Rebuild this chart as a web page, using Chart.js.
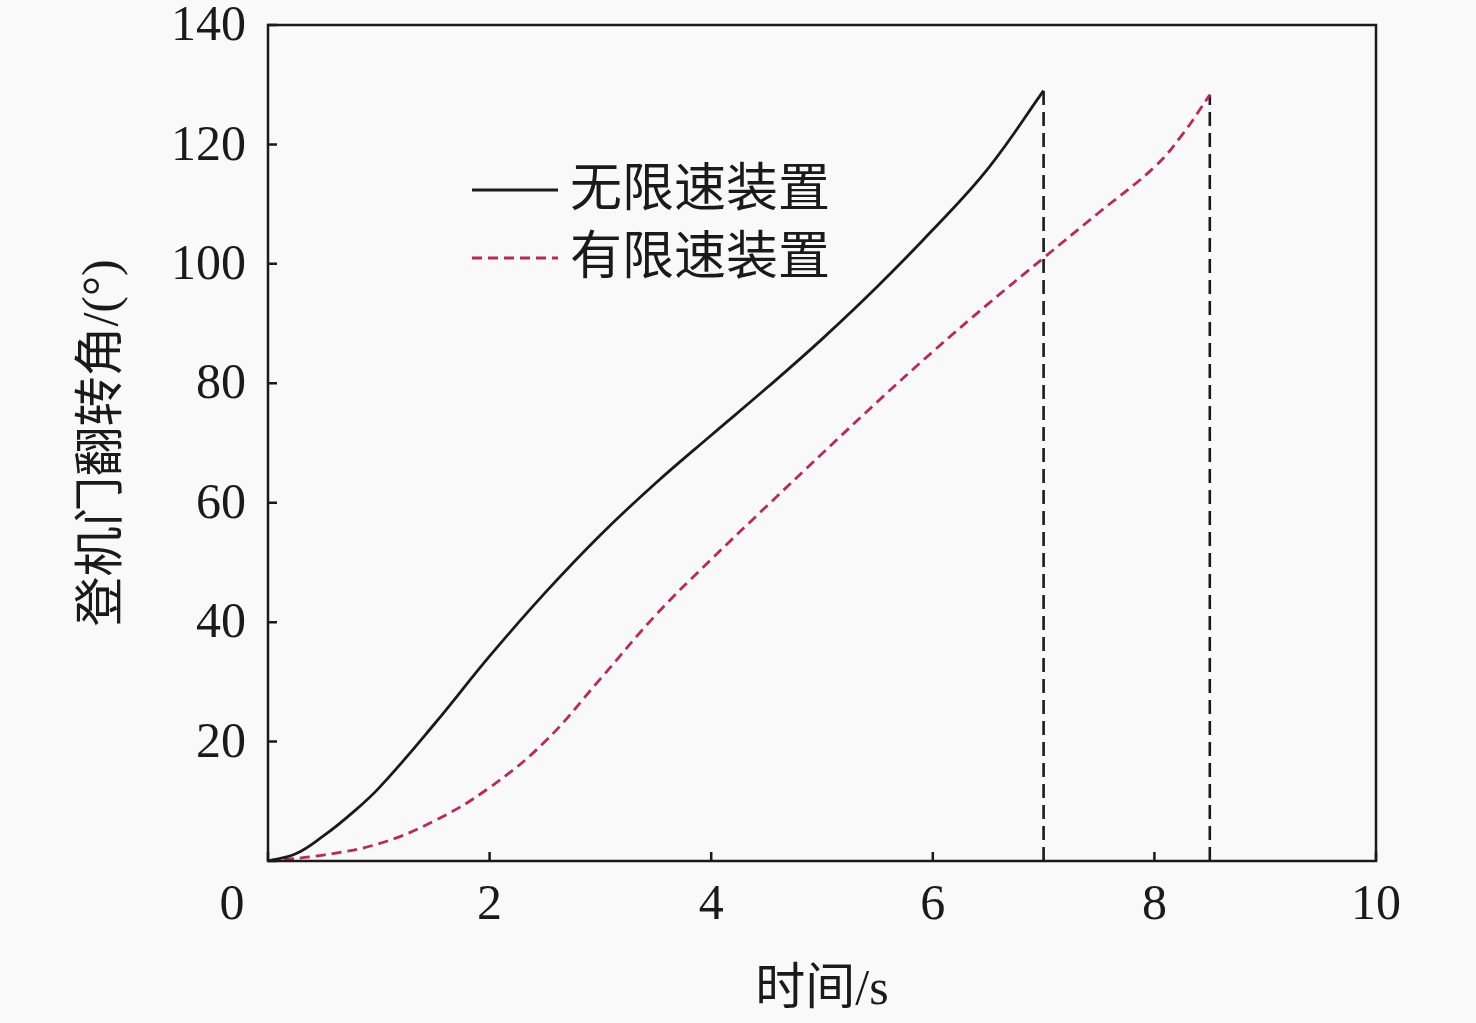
<!DOCTYPE html>
<html><head><meta charset="utf-8">
<script src="https://cdn.jsdelivr.net/npm/chart.js@4/dist/chart.umd.min.js"></script>
<style>html,body{margin:0;padding:0;background:#f9f9f9;}#wrap{width:1476px;height:1023px;}</style>
</head><body><div id="wrap"><canvas id="c" width="1476" height="1023"></canvas></div>
<script>
const seriesNames = ['无限速装置', '有限速装置'];
const tNoLimit = [0,0.25,0.5,0.75,1.0,1.5,2.0,2.5,3,3.5,4,4.5,5,5.5,6,6.5,7];
const angleNoLimit = [0,1.2,4.2,7.9,12.2,22.9,34.3,44.9,54.6,63.3,71.3,79.2,87.4,96.2,105.7,116.0,129];
const tLimit = [0,0.5,1,1.5,2,2.5,3,3.5,4,4.5,5,5.5,6,6.5,7,7.5,8,8.25,8.5];
const angleLimit = [0,1.0,2.9,6.7,12.3,20,30.5,41.2,50.5,59.4,68.2,76.9,85.3,93.3,101.0,108.6,116.2,121.6,128.3];
const endTimes = [7, 8.5];
const xTicks = [0,2,4,6,8,10];
const yTicks = [0,20,40,60,80,100,120,140];
const xTitle = '时间/s';
const yTitle = '登机门翻转角/(°)';

const FONT_NUM = '"Liberation Serif", "Times New Roman", serif';
const FONT_CJK = '"Liberation Serif", "Noto Sans CJK SC", serif';
const PINK = '#b8295c';

const pts = (xs, ys) => xs.map((x, i) => ({x, y: ys[i]}));

const insidePlugin = {
  id: 'inside',
  afterDraw(chart) {
    const {ctx, chartArea: a, scales: {x, y}} = chart;
    ctx.save();
    ctx.strokeStyle = '#1a1a1a';
    ctx.lineWidth = 2.5;
    ctx.strokeRect(a.left, a.top, a.right - a.left, a.bottom - a.top);
    ctx.beginPath();
    xTicks.forEach(v => { const px = x.getPixelForValue(v); ctx.moveTo(px, a.bottom); ctx.lineTo(px, a.bottom - 9); });
    yTicks.forEach(v => { const py = y.getPixelForValue(v); ctx.moveTo(a.left, py); ctx.lineTo(a.left + 9, py); });
    ctx.stroke();
    ctx.fillStyle = '#1a1a1a';
    ctx.font = '50px ' + FONT_NUM;
    ctx.textBaseline = 'middle';
    ctx.textAlign = 'right';
    yTicks.forEach(v => { if (v === 0) return; ctx.fillText(String(v), a.left - 22, y.getPixelForValue(v) + 2); });
    ctx.textAlign = 'center';
    xTicks.forEach(v => { if (v === 0) return; ctx.fillText(String(v), x.getPixelForValue(v), a.bottom + 45); });
    ctx.fillText('0', a.left - 36, a.bottom + 45);
    ctx.font = '50px ' + FONT_CJK;
    ctx.fillText(xTitle, (a.left + a.right) / 2, a.bottom + 130);
    ctx.save();
    ctx.translate(104, (a.top + a.bottom) / 2);
    ctx.rotate(-Math.PI / 2);
    ctx.fillText(yTitle, 0, 0);
    ctx.restore();
    ctx.font = '52px ' + FONT_CJK;
    ctx.textAlign = 'left';
    const lx = 472, lx2 = 558;
    const rows = [190, 258];
    ctx.lineWidth = 2.8;
    ctx.strokeStyle = '#1a1a1a';
    ctx.setLineDash([]);
    ctx.beginPath(); ctx.moveTo(lx, rows[0]); ctx.lineTo(lx2, rows[0]); ctx.stroke();
    ctx.strokeStyle = PINK;
    ctx.setLineDash([10, 6]);
    ctx.beginPath(); ctx.moveTo(lx, rows[1]); ctx.lineTo(lx2, rows[1]); ctx.stroke();
    ctx.setLineDash([]);
    ctx.fillText(seriesNames[0], 570, rows[0] + 2);
    ctx.fillText(seriesNames[1], 570, rows[1] + 2);
    ctx.restore();
  }
};

new Chart(document.getElementById('c'), {
  type: 'line',
  data: {
    datasets: [
      { label: seriesNames[0], data: pts(tNoLimit, angleNoLimit), borderColor: '#1a1a1a', borderWidth: 2.8, pointRadius: 0, tension: 0.4, fill: false },
      { label: seriesNames[1], data: pts(tLimit, angleLimit), borderColor: PINK, borderWidth: 2.8, borderDash: [10, 6], pointRadius: 0, tension: 0.4, fill: false },
      { label: 'v1', data: [{x: endTimes[0], y: 0}, {x: endTimes[0], y: angleNoLimit[angleNoLimit.length - 1]}], borderColor: '#1a1a1a', borderWidth: 2.6, borderDash: [14, 7], pointRadius: 0, tension: 0, fill: false },
      { label: 'v2', data: [{x: endTimes[1], y: 0}, {x: endTimes[1], y: angleLimit[angleLimit.length - 1]}], borderColor: '#1a1a1a', borderWidth: 2.6, borderDash: [14, 7], pointRadius: 0, tension: 0, fill: false }
    ]
  },
  options: {
    responsive: false,
    animation: false,
    layout: { padding: { top: 25, right: 100, left: 0, bottom: 0 } },
    plugins: { legend: { display: false }, tooltip: { enabled: false } },
    scales: {
      x: { type: 'linear', min: 0, max: 10, grid: { display: false, drawTicks: false }, border: { display: false },
           ticks: { display: false, stepSize: 2 }, afterFit(s) { s.height = 162; } },
      y: { type: 'linear', min: 0, max: 140, grid: { display: false, drawTicks: false }, border: { display: false },
           ticks: { display: false, stepSize: 20 }, afterFit(s) { s.width = 268; } }
    }
  },
  plugins: [insidePlugin]
});
</script></body></html>
